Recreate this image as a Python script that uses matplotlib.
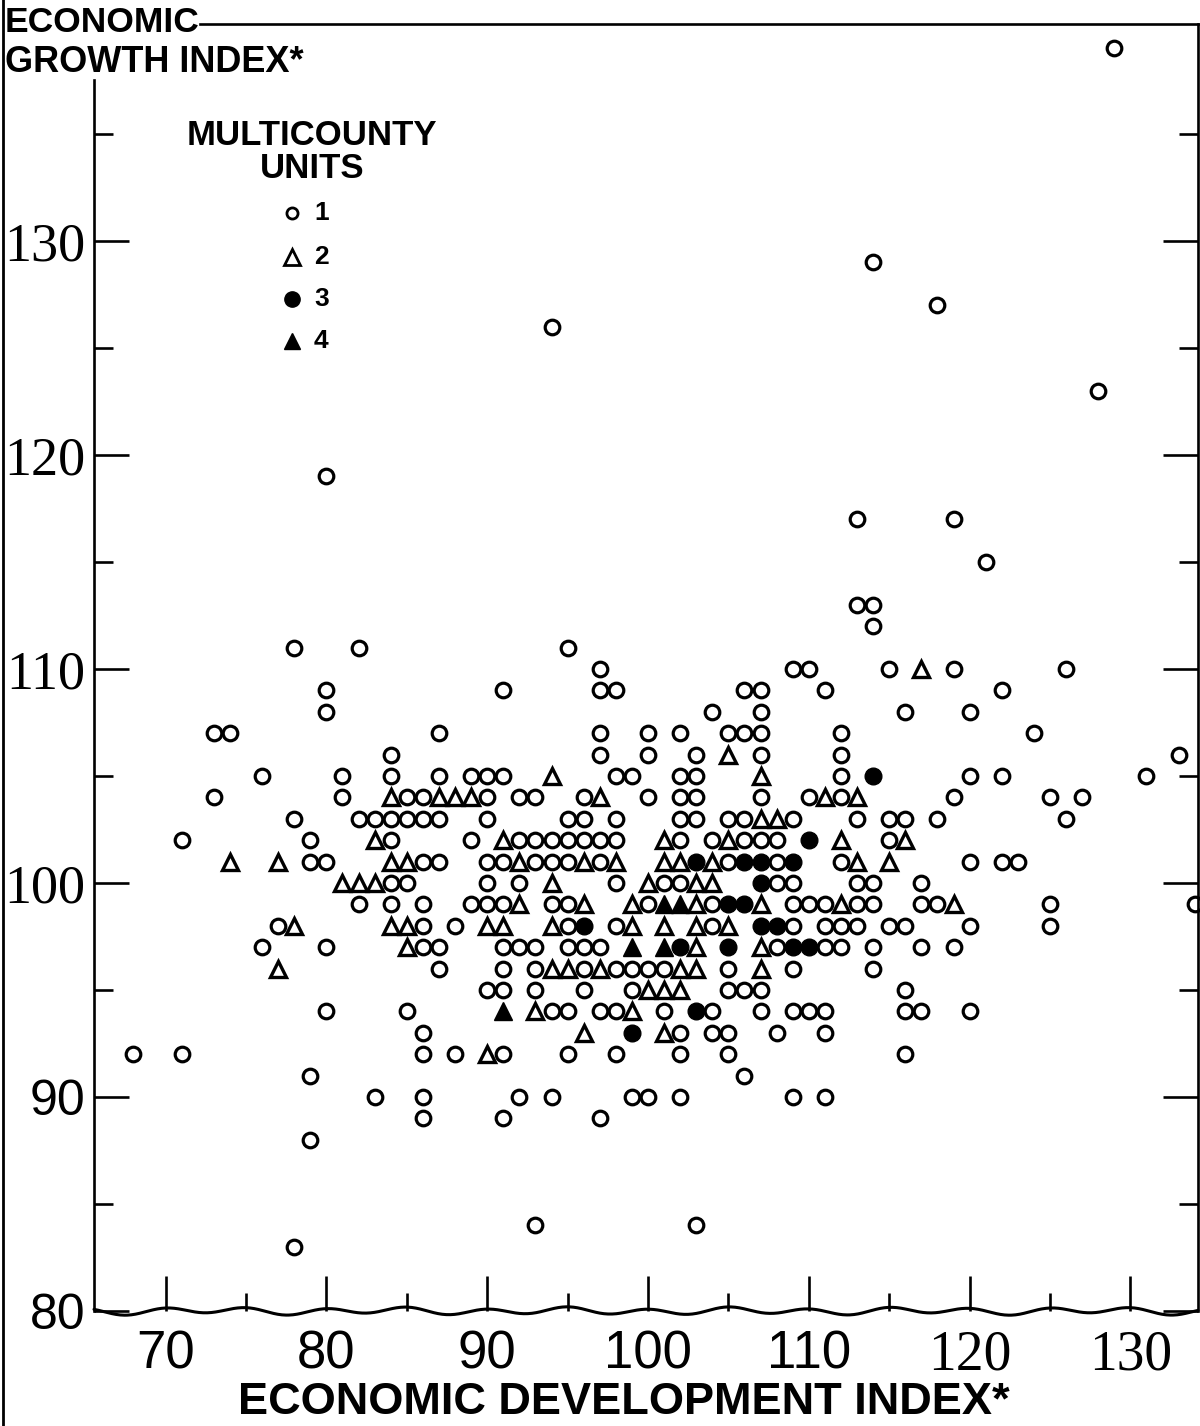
import numpy as np
import matplotlib
matplotlib.use("Agg")
import matplotlib.pyplot as plt
from matplotlib.lines import Line2D

# rows of the scatter: growth index (y) and the development index (x) of each point
rows_y = [139, 129, 127, 126, 123, 119, 117, 115, 113, 112, 111, 110, 109, 108, 107, 106,
          105, 104, 103, 102, 101, 100, 99, 98, 97, 96, 95, 94, 93, 92, 91, 90, 89, 88, 84, 83]

# 1 multicounty unit (open circle)
unit1_x = [
    [129], [114], [118], [94], [128], [80], [113, 119], [121], [113, 114], [114],
    [78, 82, 95],
    [97, 109, 110, 115, 119, 126],
    [80, 91, 97, 98, 106, 107, 111, 122],
    [80, 104, 107, 116, 120],
    [73, 74, 87, 97, 100, 102, 105, 106, 107, 112, 124],
    [84, 97, 100, 103, 107, 112, 133],
    [76, 81, 84, 87, 89, 90, 91, 98, 99, 102, 103, 112, 120, 122, 131],
    [73, 81, 85, 86, 90, 92, 93, 96, 100, 102, 103, 107, 110, 112, 119, 125, 127],
    [78, 82, 83, 84, 85, 86, 87, 90, 95, 96, 98, 102, 103, 105, 106, 109, 113, 115, 116, 118, 126],
    [71, 79, 84, 89, 92, 93, 94, 95, 96, 97, 98, 102, 104, 106, 107, 108, 115],
    [79, 80, 86, 87, 90, 91, 93, 94, 95, 97, 105, 108, 112, 120, 122, 123],
    [84, 85, 90, 92, 98, 101, 102, 108, 109, 113, 114, 117],
    [82, 84, 86, 89, 90, 91, 94, 95, 100, 104, 109, 110, 111, 113, 114, 117, 118, 125, 134],
    [77, 86, 88, 95, 98, 104, 109, 111, 112, 113, 115, 116, 120, 125],
    [76, 80, 86, 87, 91, 92, 93, 95, 96, 97, 108, 111, 112, 114, 117, 119],
    [87, 91, 93, 96, 98, 99, 100, 101, 105, 109, 114],
    [90, 91, 93, 96, 99, 105, 106, 107, 116],
    [80, 85, 94, 95, 97, 98, 101, 104, 107, 109, 110, 111, 116, 117, 120],
    [86, 102, 104, 105, 108, 111],
    [68, 71, 86, 88, 91, 95, 98, 102, 105, 116],
    [79, 106],
    [83, 86, 92, 94, 99, 100, 102, 109, 111],
    [86, 91, 97],
    [79],
    [93, 103],
    [78],
]

# 2 units (open triangle)
unit2_x = [
    [], [], [], [], [], [], [], [], [], [], [],
    [117],
    [], [], [],
    [105],
    [94, 107],
    [84, 87, 88, 89, 97, 111, 113],
    [107, 108],
    [83, 91, 101, 105, 112, 116],
    [74, 77, 84, 85, 92, 96, 98, 101, 102, 104, 113, 115],
    [81, 82, 83, 94, 100, 103, 104],
    [92, 96, 99, 103, 107, 112, 119],
    [78, 84, 85, 90, 91, 94, 99, 101, 103, 105],
    [85, 103, 107],
    [77, 94, 95, 97, 102, 103, 107],
    [100, 101, 102],
    [93, 99],
    [96, 101],
    [90],
    [], [], [], [], [], [],
]

# 3 units (filled circle)
unit3_x = [
    [], [], [], [], [], [], [], [], [], [], [], [], [], [], [], [],
    [114],
    [], [],
    [110],
    [103, 106, 107, 109],
    [107],
    [105, 106],
    [96, 107, 108],
    [102, 105, 109, 110],
    [], [],
    [103],
    [99],
    [], [], [], [], [], [], [],
]

# 4 units (filled triangle)
unit4_x = [
    [], [], [], [], [], [], [], [], [], [], [], [], [], [], [], [], [], [], [], [], [], [],
    [101, 102],
    [],
    [99, 101],
    [], [],
    [91],
    [], [], [], [], [], [], [], [],
]

x_ticks = [70, 80, 90, 100, 110, 120, 130]
y_ticks = [80, 90, 100, 110, 120, 130]


def flatten(rows_x):
    xs, ys = [], []
    for y, row in zip(rows_y, rows_x):
        for x in row:
            xs.append(x)
            ys.append(y)
    return xs, ys


W, H = 1200, 1426
fig = plt.figure(figsize=(W / 100, H / 100), dpi=100)

# axes box in pixels of the reference
left_px, right_px, top_px, bot_px = 94, 1198, 24, 1311
px_x, px_y = 16.08, 21.4          # pixels per index unit
ax = fig.add_axes([left_px / W, 1 - bot_px / H, (right_px - left_px) / W, (bot_px - top_px) / H])
x_lo = 100 - (648 - left_px) / px_x
x_hi = 100 + (right_px - 648) / px_x
y_hi = 80 + (bot_px - top_px) / px_y
ax.set_xlim(x_lo, x_hi)
ax.set_ylim(80, y_hi)

# points
x1, y1 = flatten(unit1_x)
x2, y2 = flatten(unit2_x)
x3, y3 = flatten(unit3_x)
x4, y4 = flatten(unit4_x)
ax.plot(x1, y1, ls="none", marker="o", ms=10.5, mfc="none", mec="black", mew=2.3, clip_on=False)
ax.plot(x2, y2, ls="none", marker="^", ms=11.5, mfc="none", mec="black", mew=2.4, clip_on=False)
ax.plot(x3, y3, ls="none", marker="o", ms=12, mfc="black", mec="black", mew=1.0, clip_on=False)
ax.plot(x4, y4, ls="none", marker="^", ms=12.5, mfc="black", mec="black", mew=1.0, clip_on=False)

# spines
lw = 1.9
ax.spines["bottom"].set_visible(False)
ax.spines["left"].set_bounds(80, 80 + (bot_px - 80) / px_y)
ax.spines["top"].set_bounds(100 - (648 - 200) / px_x, x_hi)
for s in ["left", "top", "right"]:
    ax.spines[s].set_linewidth(lw)

# wavy bottom axis line (hand drawn look)
xs = np.linspace(x_lo, x_hi, 800)
wave = 3.0 * np.cos(2 * np.pi * (xs - 70) / 5) + 1.2 * np.sin(2 * np.pi * (xs - 70) / 11.0)
ax.plot(xs, 80 + wave / px_y, color="black", lw=2.2, clip_on=False, solid_capstyle="round")

# ticks
ax.set_xticks(x_ticks, labels=[str(t) for t in x_ticks])
ax.set_xticks([t + 5 for t in x_ticks[:-1]], minor=True)
ax.set_yticks(y_ticks, labels=[str(t) for t in y_ticks])
ax.set_yticks([t + 5 for t in y_ticks], minor=True)
ax.tick_params(which="both", direction="in", width=lw, color="black", top=False, right=True)
ax.tick_params(axis="x", which="major", length=25, pad=13)
ax.tick_params(axis="x", which="minor", length=13)
ax.tick_params(axis="y", which="major", length=25, pad=6)
ax.tick_params(axis="y", which="minor", length=14)

for lab in ax.get_xticklabels():
    if lab.get_text() in ("120", "130"):
        lab.set_fontfamily("Liberation Serif")
        lab.set_fontsize(40)
    else:
        lab.set_fontfamily("Liberation Sans")
        lab.set_fontsize(38)
for lab in ax.get_yticklabels():
    if lab.get_text() in ("80", "90"):
        lab.set_fontfamily("Liberation Sans")
        lab.set_fontsize(36)
    else:
        lab.set_fontfamily("Liberation Serif")
        lab.set_fontsize(39)

# page border on the left
fig.add_artist(Line2D([3 / W, 3 / W], [0, 1], color="black", lw=2))

# axis titles
bold = dict(family="Liberation Sans", fontweight="bold", color="black")
fig.text(5 / W, 1 - 6 / H, "ECONOMIC", fontsize=25.5, ha="left", va="top", **bold)
fig.text(5 / W, 1 - 45 / H, "GROWTH INDEX*", fontsize=26, ha="left", va="top", **bold)
fig.text(624 / W, 1 - 1402 / H, "ECONOMIC DEVELOPMENT INDEX*", fontsize=32.5,
         ha="center", va="center", **bold)

# legend
fig.text(312 / W, 1 - 119 / H, "MULTICOUNTY\nUNITS", fontsize=25, ha="center", va="top",
         linespacing=1.0, **bold)
leg_y = [213, 257, 299, 341]
leg_style = [
    dict(marker="o", ms=8, mfc="none", mec="black", mew=2.0),
    dict(marker="^", ms=11, mfc="none", mec="black", mew=2.0),
    dict(marker="o", ms=11, mfc="black", mec="black"),
    dict(marker="^", ms=12, mfc="black", mec="black"),
]
for i, (py, st) in enumerate(zip(leg_y, leg_style)):
    fig.add_artist(Line2D([292 / W], [1 - py / H], ls="none", **st))
    fig.text(314 / W, 1 - py / H, str(i + 1), fontsize=19, ha="left", va="center", **bold)

fig.savefig("out.png", dpi=100, facecolor="white")
